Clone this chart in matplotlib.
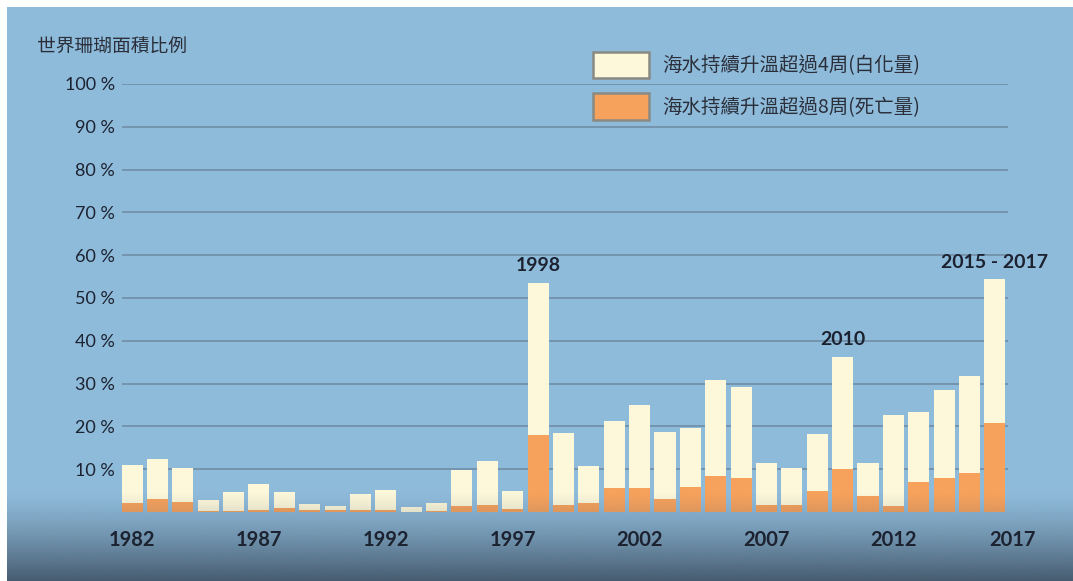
import numpy as np
import matplotlib
matplotlib.use('Agg')
import matplotlib.pyplot as plt
from matplotlib.patches import Patch
from matplotlib.colors import to_rgb

plt.rcParams['font.family'] = ['Lato', 'Noto Sans CJK TC', 'DejaVu Sans']

# data (percent of world coral area)
years = list(range(1982, 2017))
bleached_total = [11.0, 12.4, 10.3, 2.8, 4.6, 6.5, 4.6, 1.9, 1.4, 4.1,
                  5.1, 1.2, 2.1, 9.7, 11.8, 4.9, 53.6, 18.4, 10.8, 21.3,
                  25.1, 18.6, 19.7, 30.8, 29.2, 11.4, 10.2, 18.3, 36.3, 11.4,
                  22.7, 23.4, 28.4, 31.7, 54.4]
dead = [2.0, 3.0, 2.3, 0.2, 0.3, 0.5, 1.0, 0.5, 0.5, 0.4,
        0.5, 0.1, 0.2, 1.3, 1.7, 0.6, 18.0, 1.7, 2.1, 5.5,
        5.6, 3.0, 5.8, 8.5, 7.9, 1.6, 1.6, 4.9, 10.0, 3.8,
        1.3, 6.9, 7.9, 9.1, 20.9]
ytick_vals = [10, 20, 30, 40, 50, 60, 70, 80, 90, 100]
ytick_labels = ['10 %', '20 %', '30 %', '40 %', '50 %', '60 %', '70 %', '80 %', '90 %', '100 %']
xtick_labels = ['1982', '1987', '1992', '1997', '2002', '2007', '2012', '2017']
xtick_pos = [1982, 1987, 1992, 1997, 2002, 2007, 2012, 2016.7]
highlights = [(1998, '1998'), (2010, '2010'), (2016, '2015 - 2017')]

title = '世界珊瑚面積比例'
label_bleach = '海水持續升溫超過4周(白化量)'
label_dead = '海水持續升溫超過8周(死亡量)'

bg = '#8fbbdb'
cream = '#fdf8da'
orange = '#f7a25c'
txt = '#1c2230'

W, H = 1073, 581
fig = plt.figure(figsize=(W / 100, H / 100), dpi=100)
fig.patch.set_facecolor('white')

bgax = fig.add_axes([7 / W, 0, 1 - 7 / W, 1 - 7 / H], zorder=0)
bgax.set_facecolor(bg)
bgax.set_xticks([]); bgax.set_yticks([])
for s in bgax.spines.values():
    s.set_visible(False)

# axes: 0% at y=512px, 100% at y=84px, 1982 at x=132px, pitch 25.38 px
pitch = 25.38
x_left = 1982 - 10 / pitch
x_right = 2016 + 37 / pitch
pos = [122 / W, (H - 512) / H, (x_right - x_left) * pitch / W, 428 / H]
ax = fig.add_axes(pos, zorder=1)
ax.set_facecolor('none')
ax.set_xlim(x_left, x_right)
ax.set_ylim(0, 100)

ax.hlines(ytick_vals, x_left, 2016 + 13 / pitch, color='#6d8aa0', lw=1.1, zorder=1)

ys = np.array(years)
tot = np.array(bleached_total)
dd = np.array(dead)
ax.bar(ys, dd, width=0.83, color=orange, zorder=2)
ax.bar(ys, tot - dd, bottom=dd, width=0.83, color=cream, zorder=2)

for yr, lab in highlights:
    ax.annotate(lab, (yr, bleached_total[years.index(yr)]), xytext=(0, 6),
                textcoords='offset points', ha='center', va='bottom',
                fontsize=14, fontweight='bold', color=txt)

ax.set_yticks(ytick_vals)
ax.set_yticklabels(ytick_labels, fontsize=13, color=txt)
ax.set_xticks([])
ax.tick_params(length=0)
ax.tick_params(axis='y', pad=5)
for s in ax.spines.values():
    s.set_visible(False)

# dark fade at the bottom, over the bars
fade = fig.add_axes([7 / W, 0, 1 - 7 / W, (H - 490) / H], zorder=2)
n = 200
grad = np.zeros((n, 2, 4))
grad[..., :3] = to_rgb('#3a4b5c')
grad[..., 3] = (0.85 * np.linspace(0, 1, n) ** 1.3)[:, None]
fade.imshow(grad, aspect='auto', extent=[0, 1, 0, 1], interpolation='bilinear')
fade.set_axis_off()

# year labels above the fade
lab_ax = fig.add_axes(pos, zorder=3)
lab_ax.set_facecolor('none')
lab_ax.set_xlim(x_left, x_right)
lab_ax.set_ylim(0, 100)
lab_ax.set_yticks([])
lab_ax.set_xticks(xtick_pos)
lab_ax.set_xticklabels(xtick_labels, fontsize=14.5, fontweight='bold', color=txt)
lab_ax.tick_params(length=0, axis='x', pad=13)
for s in lab_ax.spines.values():
    s.set_visible(False)

fig.text(37 / W, 1 - 47 / H, title, fontsize=13.5, color='#2a2f3a', va='center',
         family=['Noto Sans CJK TC', 'DejaVu Sans'])

handles = [Patch(facecolor=cream, edgecolor='#8a8a84', lw=1.8, label=label_bleach),
           Patch(facecolor=orange, edgecolor='#8a8a84', lw=1.8, label=label_dead)]
fig.legend(handles=handles, loc='upper left', bbox_to_anchor=(593 / W, 1 - 52 / H),
           frameon=False, handlelength=2.9, handleheight=1.7,
           labelspacing=0.78, handletextpad=0.65, borderpad=0, borderaxespad=0,
           labelcolor='#2a2f3a', prop={'family': ['Noto Sans CJK TC', 'DejaVu Sans'], 'size': 14})

fig.savefig('out.png', dpi=100)
